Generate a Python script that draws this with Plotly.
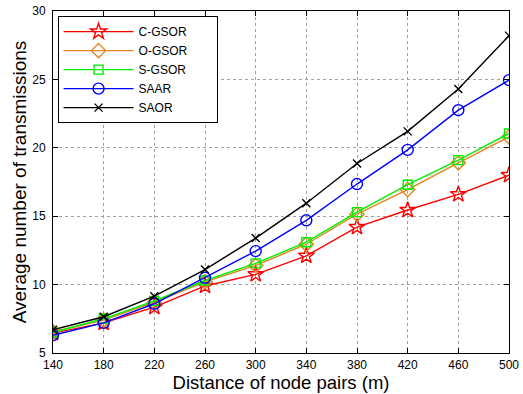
import plotly.graph_objects as go

x = [140, 180, 220, 260, 300, 340, 380, 420, 460, 500]
c_gsor = [6.45, 7.2, 8.35, 9.9, 10.75, 12.1, 14.2, 15.45, 16.6, 18.0]
o_gsor = [6.55, 7.4, 8.7, 10.2, 11.4, 12.95, 15.15, 16.95, 18.9, 20.8]
s_gsor = [6.5, 7.5, 8.8, 10.3, 11.55, 13.1, 15.3, 17.3, 19.1, 21.05]
saar = [6.3, 7.2, 8.6, 10.5, 12.45, 14.7, 17.35, 19.85, 22.75, 24.95]
saor = [6.7, 7.65, 9.15, 11.1, 13.4, 15.95, 18.85, 21.2, 24.3, 28.2]
y_ticks = [5, 10, 15, 20, 25, 30]

series = [
    ("C-GSOR", c_gsor, "#FF0000", "star-open", 12),
    ("O-GSOR", o_gsor, "#E0861E", "diamond-open", 11),
    ("S-GSOR", s_gsor, "#00EE00", "square-open", 9),
    ("SAAR", saar, "#0000FF", "circle-open", 11),
    ("SAOR", saor, "#000000", "x-thin-open", 8),
]

pad = "\u00a0" * 7
fig = go.Figure()
for name, y, color, sym, size in series:
    fig.add_trace(go.Scatter(
        x=x, y=y, name=name + pad, mode="lines+markers",
        line=dict(color=color, width=1.4),
        marker=dict(symbol=sym, size=size, color=color, line=dict(color=color, width=1.4)),
    ))

axis_common = dict(
    showline=True, linecolor="black", linewidth=1, mirror="ticks",
    ticks="inside", ticklen=5, tickcolor="black",
    showgrid=True, gridcolor="#a0a0a0", griddash="dot", gridwidth=1,
    zeroline=False, tickfont=dict(size=12, color="black"), automargin=False,
)

fig.update_layout(
    template="none",
    width=523, height=394,
    margin=dict(l=53, r=14, t=11, b=41, pad=0),
    paper_bgcolor="white", plot_bgcolor="white",
    font=dict(family="Liberation Sans, Arial, sans-serif", color="black"),
    xaxis=dict(range=[140, 500], tickvals=x, ticklabelstandoff=1,
               title=dict(text="Distance of node pairs (m)", font=dict(size=18.5), standoff=1),
               **axis_common),
    yaxis=dict(range=[5, 30], tickvals=y_ticks, ticklabelstandoff=4,
               title=dict(text="Average number of transmissions", font=dict(size=19), standoff=0),
               **axis_common),
    legend=dict(x=0.01, y=0.985, xanchor="left", yanchor="top", bgcolor="white",
                bordercolor="black", borderwidth=1, font=dict(size=12), itemwidth=70,
                tracegroupgap=0),
    showlegend=True,
)

fig.write_html("out.html", config={"displayModeBar": False},
               post_script="document.body.style.margin='0px';")
